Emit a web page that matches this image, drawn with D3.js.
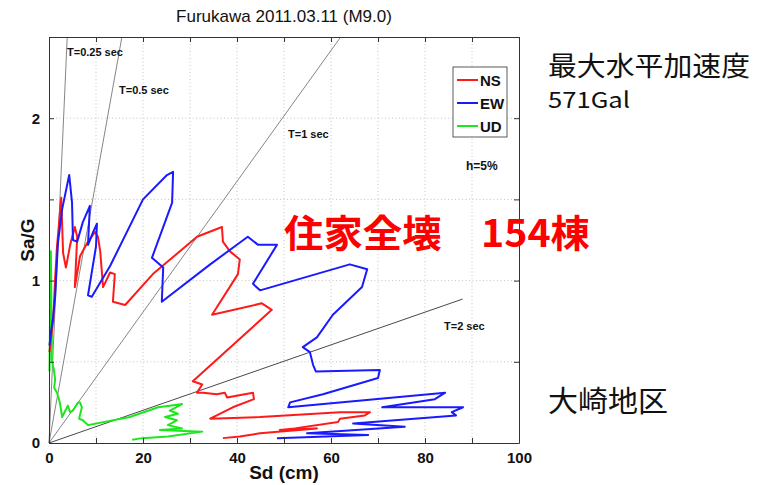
<!DOCTYPE html>
<html>
<head>
<meta charset="utf-8">
<script src="https://cdn.jsdelivr.net/npm/d3@7"></script>
<style>
  body { margin: 0; background: #fff; }
  svg text { font-family: "Liberation Sans", Arial, sans-serif; }
</style>
</head>
<body>
<div id="chart"></div>
<script>
// series: [Sd (cm), Sa/G]
const nsData = [
  [0.1,0.56],[0.9,0.76],[1.3,1.01],[1.7,1.21],[2.6,1.51],[3.0,1.17],[3.6,1.08],[4.5,1.22],
  [5.5,1.33],[6.0,1.27],[5.5,0.96],[6.6,1.15],[8.1,1.23],[9.8,1.30],[10.4,1.27],[10.9,1.18],
  [11.5,0.96],[13.0,1.05],[14.0,1.04],[13.6,0.87],[16.2,0.85],[22.1,1.04],[31.5,1.27],[36.8,1.33],
  [37.0,1.24],[38.5,1.18],[40.6,1.13],[40.2,1.04],[34.7,0.79],[45.3,0.86],[47.4,0.82],[30.6,0.38],
  [32.6,0.36],[31.5,0.31],[32.8,0.31],[35.7,0.30],[37.4,0.31],[37.9,0.28],[43.4,0.31],[43.6,0.27],
  [39.1,0.22],[34.3,0.15],[44.9,0.16],[61.9,0.19],[68.3,0.19],[67.2,0.17],[61.9,0.15],[61.5,0.13],
  [52.3,0.09],[49.1,0.08],[57.0,0.09],[44.9,0.06],[40.6,0.04],[37.0,0.03]
];
const ewData = [
  [0.1,0.60],[0.4,0.68],[0.9,0.78],[1.3,0.90],[1.9,1.23],[2.8,1.44],[4.3,1.65],[4.9,1.48],
  [5.1,1.25],[6.0,1.24],[7.2,1.36],[8.7,1.46],[8.3,1.22],[9.4,1.30],[10.2,1.35],[10.0,1.21],
  [8.3,0.91],[9.1,0.90],[13.0,1.09],[20.0,1.50],[25.1,1.65],[26.4,1.67],[26.2,1.48],[21.9,1.14],
  [24.3,1.08],[24.0,0.87],[34.3,1.10],[42.3,1.27],[44.5,1.22],[48.5,1.22],[43.4,0.98],[44.9,0.94],
  [64.0,1.10],[67.7,1.07],[66.6,0.96],[60.4,0.79],[57.0,0.65],[54.0,0.59],[55.5,0.56],[56.2,0.48],
  [56.8,0.44],[70.4,0.45],[70.0,0.40],[58.3,0.30],[51.3,0.25],[50.9,0.22],[84.3,0.31],[82.1,0.27],
  [70.9,0.22],[88.1,0.22],[85.7,0.19],[86.6,0.17],[64.7,0.12],[75.7,0.10],[54.9,0.06],[67.9,0.05],
  [48.5,0.03]
];
const udData = [
  [0.1,0.44],[0.2,0.70],[0.4,1.18],[0.5,0.88],[0.4,1.01],[0.6,0.64],[0.6,0.51],[1.1,0.44],
  [1.3,0.39],[1.1,0.34],[1.7,0.31],[2.3,0.25],[2.8,0.16],[4.0,0.23],[4.5,0.19],[5.1,0.20],
  [6.2,0.25],[6.6,0.25],[7.0,0.22],[6.4,0.15],[7.2,0.14],[8.3,0.11],[17.2,0.16],[23.2,0.22],
  [25.7,0.23],[28.3,0.24],[25.7,0.20],[27.4,0.18],[24.7,0.16],[27.2,0.14],[25.3,0.11],[28.3,0.09],
  [23.6,0.08],[32.6,0.07],[25.3,0.04],[19.8,0.03],[17.7,0.02]
];

const seriesNames = ["NS", "EW", "UD"];
const seriesColors = ["#ff1a1a", "#1a1aff", "#1ee61e"];
const seriesData = [nsData, ewData, udData];

// natural periods (sec) of the guide lines, and how far each one runs in Sd (cm)
const periods = [0.25, 0.5, 1, 2];
const periodMaxSd = [100, 100, 100, 88];
const periodLabels = ["T=0.25 sec", "T=0.5 sec", "T=1 sec", "T=2 sec"];

const xTicks = [0, 10, 20, 30, 40, 50, 60, 70, 80, 90, 100];
const yTicks = [0, 0.5, 1, 1.5, 2, 2.5];

const margin = { top: 37, right: 238, bottom: 42, left: 49 },
  width = 757 - margin.left - margin.right,
  height = 485 - margin.top - margin.bottom;

const root = d3.select("#chart").append("svg")
  .attr("width", 757)
  .attr("height", 485);

const svg = root.append("g")
  .attr("transform", `translate(${margin.left},${margin.top})`);

const x = d3.scaleLinear().domain([0, 100]).range([0, width]);
const y = d3.scaleLinear().domain([0, 2.5]).range([height, 0]);

// dotted grid
svg.selectAll(".vgrid").data(xTicks.slice(1, -1)).enter().append("line")
  .attr("x1", d => x(d)).attr("x2", d => x(d))
  .attr("y1", 0).attr("y2", height)
  .attr("stroke", "#b5b5b5").attr("stroke-width", 0.8)
  .attr("stroke-dasharray", "1,2.5");
svg.selectAll(".hgrid").data(yTicks.slice(1, -1)).enter().append("line")
  .attr("x1", 0).attr("x2", width)
  .attr("y1", d => y(d)).attr("y2", d => y(d))
  .attr("stroke", "#b5b5b5").attr("stroke-width", 0.8)
  .attr("stroke-dasharray", "1,2.5");

// period lines: Sa = (2pi/T)^2 * Sd / 980
periods.forEach((T, i) => {
  const k = Math.pow(2 * Math.PI / T, 2) / 980;
  const sdEnd = Math.min(periodMaxSd[i], 2.5 / k);
  svg.append("line")
    .attr("x1", x(0)).attr("y1", y(0))
    .attr("x2", x(sdEnd)).attr("y2", y(k * sdEnd))
    .attr("stroke", i === 3 ? "#333" : "#777")
    .attr("stroke-width", 0.9);
});

// spectra curves
const line = d3.line().x(d => x(d[0])).y(d => y(d[1]));
[2, 0, 1].forEach(i => {
  svg.append("path")
    .datum(seriesData[i])
    .attr("fill", "none")
    .attr("stroke", seriesColors[i])
    .attr("stroke-width", 2)
    .attr("stroke-linejoin", "round")
    .attr("d", line);
});

// axes (ticks inward, box)
const tickFont = g => g.selectAll("text")
  .attr("font-size", "15px").attr("font-weight", "bold").attr("fill", "#111");

svg.append("g")
  .attr("transform", `translate(0,${height})`)
  .call(d3.axisBottom(x).tickValues(xTicks).tickSizeInner(-5).tickSizeOuter(0).tickPadding(9)
    .tickFormat(d => d % 20 === 0 ? d : ""))
  .call(tickFont);
svg.append("g")
  .call(d3.axisTop(x).tickValues(xTicks).tickSizeInner(-5).tickSizeOuter(0).tickFormat(""));
svg.append("g")
  .call(d3.axisLeft(y).tickValues(yTicks).tickSizeInner(-5).tickSizeOuter(0).tickPadding(9)
    .tickFormat(d => Number.isInteger(d) ? d : ""))
  .call(tickFont);
svg.append("g")
  .attr("transform", `translate(${width},0)`)
  .call(d3.axisRight(y).tickValues(yTicks).tickSizeInner(-5).tickSizeOuter(0).tickFormat(""));

svg.selectAll(".domain").attr("stroke", "#333");
svg.selectAll(".tick line").attr("stroke", "#333");

// period labels
const narrow = "'Liberation Sans Narrow', 'Arial Narrow', 'Liberation Sans', sans-serif";
const periodLabelPos = [[18, 19], [70, 57], [239, 101], [395, 293]];
periodLabels.forEach((t, i) => {
  svg.append("text")
    .attr("x", periodLabelPos[i][0]).attr("y", periodLabelPos[i][1])
    .attr("font-size", "11px").attr("font-weight", "bold")
    .style("font-family", narrow)
    .attr("fill", "#111")
    .text(t);
});

svg.append("text")
  .attr("x", 417).attr("y", 133)
  .attr("font-size", "12px").attr("font-weight", "bold")
  .style("font-family", narrow)
  .attr("fill", "#111")
  .text("h=5%");

// legend
const legend = svg.append("g").attr("transform", `translate(${width - 66},30)`);
legend.append("rect")
  .attr("width", 54).attr("height", 70)
  .attr("fill", "#fff").attr("stroke", "#333").attr("stroke-width", 0.8);
seriesNames.forEach((name, i) => {
  const row = legend.append("g").attr("transform", `translate(0,${13 + i * 23})`);
  row.append("line")
    .attr("x1", 4).attr("x2", 25).attr("y1", 0).attr("y2", 0)
    .attr("stroke", seriesColors[i]).attr("stroke-width", 2);
  row.append("text")
    .attr("x", 27).attr("y", 6)
    .attr("font-size", "15px").attr("font-weight", "bold")
    .style("font-family", narrow)
    .attr("fill", "#111")
    .text(name);
});

// title and axis labels
root.append("text")
  .attr("x", margin.left + width / 2).attr("y", 22)
  .attr("text-anchor", "middle")
  .attr("font-size", "17px")
  .attr("fill", "#111")
  .text("Furukawa 2011.03.11 (M9.0)");

root.append("text")
  .attr("x", margin.left + width / 2).attr("y", 479)
  .attr("text-anchor", "middle")
  .attr("font-size", "19px").attr("font-weight", "bold")
  .attr("fill", "#111")
  .text("Sd (cm)");

root.append("text")
  .attr("transform", `translate(34,${margin.top + height / 2}) rotate(-90)`)
  .attr("text-anchor", "middle")
  .attr("font-size", "19px").attr("font-weight", "bold")
  .attr("fill", "#111")
  .text("Sa/G");

// annotations
const cjk = "'Noto Sans CJK JP', 'Noto Sans CJK SC', sans-serif";
root.append("text")
  .attr("x", 284).attr("y", 247)
  .attr("font-size", "38px").attr("font-weight", "bold")
  .attr("fill", "#ff0000")
  .attr("textLength", 306).attr("lengthAdjust", "spacingAndGlyphs")
  .style("font-family", cjk)
  .text("住家全壊　154棟");

root.append("text")
  .attr("x", 548).attr("y", 76)
  .attr("font-size", "27px")
  .attr("fill", "#111")
  .attr("textLength", 202).attr("lengthAdjust", "spacingAndGlyphs")
  .style("font-family", cjk)
  .text("最大水平加速度");

root.append("text")
  .attr("x", 548).attr("y", 108)
  .attr("font-size", "22px")
  .attr("fill", "#111")
  .attr("textLength", 82).attr("lengthAdjust", "spacingAndGlyphs")
  .style("font-family", cjk)
  .text("571Gal");

root.append("text")
  .attr("x", 548).attr("y", 412)
  .attr("font-size", "29px")
  .attr("fill", "#111")
  .attr("textLength", 120).attr("lengthAdjust", "spacingAndGlyphs")
  .style("font-family", cjk)
  .text("大崎地区");
</script>
</body>
</html>
